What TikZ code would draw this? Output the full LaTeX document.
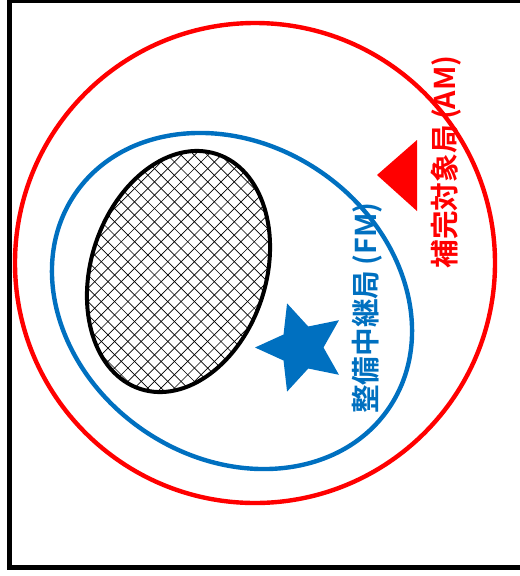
\documentclass[tikz,border=0pt]{standalone}
\usepackage{fontspec}
\newfontfamily\cjkfont{Noto Sans CJK JP}[BoldFont = * Bold]
\usetikzlibrary{shapes.geometric}
\definecolor{amred}{RGB}{255,0,0}
\definecolor{fmblue}{RGB}{0,112,192}
\tikzset{frame/.style = {draw = black, line width = 3.8pt}}
\tikzset{ring/.style = {line width = 3.3pt}}
\tikzset{rim/.style = {draw = black, line width = 3pt}}
\tikzset{hatch/.style = {draw = black, line width = 0.5pt}}
\tikzset{starmark/.style = {shape = star, star points = 5, star point ratio = 2.1, shape border rotate = 90, fill = fmblue, inner sep = 0pt, minimum size = 69.6pt}}
\tikzset{stationtext/.style = {rotate = 90, inner sep = 0pt, font = \cjkfont\bfseries\fontsize{21.5}{21.5}\selectfont}}

\begin{document}
\begin{tikzpicture}[x = 0.75pt, y = -0.75pt]
			\useasboundingbox (0, 0) rectangle (520, 576);
			\clip (0, 0) rectangle (520, 576);
			\draw[frame] (9.8, 0.3) rectangle (540, 567.3);

			\draw[ring, amred] (255, 263) circle [radius = 240];
			\draw[ring, fmblue, rotate around = {-34.4:(232, 301)}] (232, 301) ellipse [x radius = 190, y radius = 156.7];

			\begin{scope}
				\clip[rotate around = {72:(178.5, 271.5)}] (178.5, 271.5) ellipse [x radius = 123.5, y radius = 87.5];
				\foreach \k in {230, 243.3, ..., 680}
					\draw[hatch] (\k - 100, 100) -- (\k - 460, 460);
				\foreach \k in {-320, -306.7, ..., 140}
					\draw[hatch] (\k + 100, 100) -- (\k + 460, 460);
			\end{scope}
			\draw[rim, rotate around = {72:(178.5, 271.5)}] (178.5, 271.5) ellipse [x radius = 123.5, y radius = 87.5];

			\node[starmark] (fm) at (301.4, 347.5) {};

			\coordinate (tip) at (377, 175);
			\coordinate (up) at (417, 140);
			\coordinate (down) at (417, 211);
			\fill[amred] (tip) -- (up) -- (down) -- cycle;

			\node[stationtext, text = amred] (amtext) at (446, 162) {補完対象局\kern4pt(AM)};
			\node[stationtext, text = fmblue] (fmtext) at (367, 308) {整備中継局\kern4pt(FM)};
		\end{tikzpicture}
\end{document}
